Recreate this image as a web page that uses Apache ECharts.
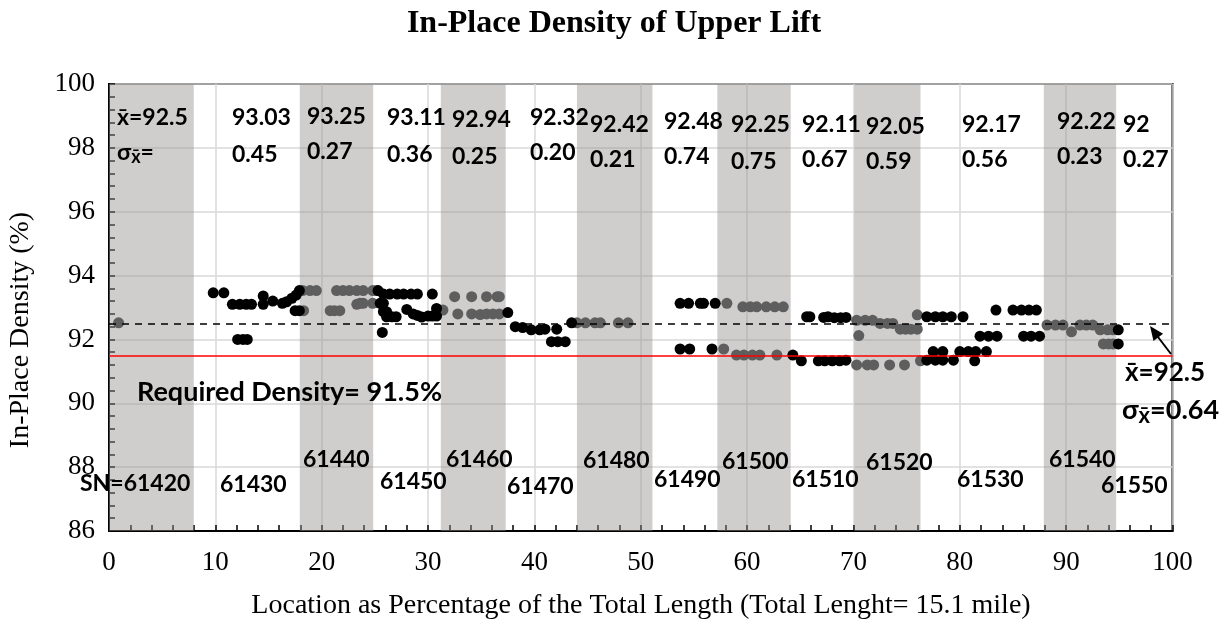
<!DOCTYPE html>
<html>
<head>
<meta charset="utf-8">
<script src="https://cdn.jsdelivr.net/npm/echarts@6/dist/echarts.min.js"></script>
<style>
  html, body { margin: 0; padding: 0; background: #ffffff; }
  #chart { width: 1228px; height: 622px; }
</style>
</head>
<body>
<div id="chart"></div>
<script>
// Core measurements: [location %, in-place density %]
const blackPoints = [
  [9.8, 93.46], [10.8, 93.46],
  [11.6, 93.1], [12.3, 93.1], [12.9, 93.1], [13.4, 93.1],
  [12.1, 92.0], [12.6, 92.0], [13.0, 92.0],
  [14.5, 93.36], [14.5, 93.1], [15.4, 93.2],
  [16.3, 93.13], [16.7, 93.18], [17.2, 93.29], [17.6, 93.39], [17.9, 93.53],
  [17.5, 92.9], [17.9, 92.9],
  [25.3, 93.53], [25.8, 93.42], [26.4, 93.42], [27.1, 93.42], [27.7, 93.42], [28.4, 93.42], [29.0, 93.42],
  [30.4, 93.42],
  [25.5, 93.13], [25.8, 93.13], [25.8, 92.87], [26.1, 92.87],
  [26.1, 92.71], [26.6, 92.71], [27.0, 92.71],
  [25.7, 92.22], [28.0, 92.94],
  [28.6, 92.8], [29.0, 92.75], [29.4, 92.7],
  [30.0, 92.73], [30.4, 92.73], [30.8, 92.73], [30.8, 92.97],
  [37.5, 92.84],
  [38.2, 92.4], [38.9, 92.37], [39.7, 92.3], [40.5, 92.3], [41.0, 92.32], [42.1, 92.32],
  [41.6, 91.93], [42.2, 91.93], [42.9, 91.93],
  [43.5, 92.52],
  [53.7, 93.13], [54.5, 93.13], [55.6, 93.13], [55.9, 93.13], [57.0, 93.13],
  [53.7, 91.7], [54.6, 91.7], [56.7, 91.7],
  [64.3, 91.51], [65.1, 91.33],
  [66.7, 91.33], [67.3, 91.33], [68.0, 91.33], [68.7, 91.33], [69.3, 91.35],
  [65.6, 92.71], [65.9, 92.71], [67.2, 92.69], [67.6, 92.71], [68.2, 92.68], [68.8, 92.68], [69.3, 92.69],
  [76.9, 92.71], [77.7, 92.71], [78.4, 92.71], [79.2, 92.71], [80.3, 92.71],
  [76.9, 91.35], [77.7, 91.35], [78.4, 91.35], [79.4, 91.35],
  [77.5, 91.62], [78.4, 91.62],
  [80.0, 91.62], [80.8, 91.62], [81.5, 91.62], [82.5, 91.62], [81.4, 91.33],
  [81.9, 92.1], [82.7, 92.1], [83.5, 92.1], [83.4, 92.92],
  [85.0, 92.92], [85.8, 92.92], [86.5, 92.92], [87.2, 92.92],
  [86.0, 92.1], [86.7, 92.1], [87.5, 92.1],
  [94.9, 92.3], [94.9, 91.86]
];

const grayPoints = [
  [0.9, 92.52],
  [18.2, 93.53], [18.9, 93.53], [19.5, 93.53], [18.3, 92.9],
  [20.8, 92.9], [21.2, 92.9], [21.7, 92.9],
  [21.4, 93.53], [22.0, 93.53], [22.6, 93.53], [23.3, 93.53], [23.9, 93.53],
  [23.3, 93.1], [23.6, 93.13], [23.9, 93.13],
  [24.8, 93.53], [25.2, 93.53], [24.8, 93.13],
  [31.4, 92.92], [32.5, 93.34],
  [34.1, 93.34], [35.5, 93.34], [36.5, 93.34], [36.7, 93.34],
  [32.8, 92.8], [34.1, 92.8], [34.9, 92.78], [35.5, 92.8], [36.1, 92.8], [36.7, 92.8],
  [44.0, 92.52], [44.8, 92.52], [45.7, 92.52], [46.2, 92.52], [47.9, 92.52], [48.8, 92.52],
  [58.1, 93.13],
  [59.6, 93.02], [60.3, 93.02], [60.9, 93.02], [61.8, 93.02], [62.6, 93.02], [63.4, 93.02],
  [57.8, 91.7],
  [59.0, 91.51], [59.7, 91.51], [60.5, 91.51], [61.2, 91.51], [62.8, 91.51],
  [70.3, 92.6], [71.1, 92.6], [71.8, 92.6], [70.5, 92.12],
  [72.5, 92.5], [73.2, 92.5], [73.7, 92.5],
  [74.4, 92.32], [74.9, 92.32], [75.4, 92.32], [76.0, 92.32], [76.0, 92.77],
  [70.3, 91.2], [71.3, 91.2], [71.9, 91.2], [73.4, 91.2], [74.8, 91.2], [76.3, 91.33],
  [88.2, 92.45], [89.0, 92.45], [89.7, 92.45], [90.5, 92.24],
  [91.3, 92.45], [91.9, 92.45], [92.5, 92.45],
  [93.2, 92.3], [93.9, 92.3], [94.4, 92.3],
  [93.5, 91.86], [94.0, 91.86], [94.4, 91.86]
];

// Alternating station sections along the lift (location % ranges)
const shadedRanges = [
  [0, 7.97], [17.94, 24.84], [31.2, 37.3], [44.0, 51.1],
  [57.2, 64.1], [70.1, 76.3], [87.9, 94.7]
];

const overallMean = 92.5;
const overallSigma = '0.64';
const requiredDensity = 91.5;

const sectionMeans = ['x\u0304=92.5', '93.03', '93.25', '93.11', '92.94', '92.32', '92.42',
  '92.48', '92.25', '92.11', '92.05', '92.17', '92.22', '92'];
const sectionSigmas = ['', '0.45', '0.27', '0.36', '0.25', '0.20', '0.21',
  '0.74', '0.75', '0.67', '0.59', '0.56', '0.23', '0.27'];
const stationLabels = ['SN=61420', '61430', '61440', '61450', '61460', '61470', '61480',
  '61490', '61500', '61510', '61520', '61530', '61540', '61550'];

// Label layout (pixel anchors: left edge, vertical middle)
const meanLabelPos = [[117,118],[232,118],[307,117],[387,118],[452,120],[530,118],[590,125],
  [664,122],[731,125],[802,125],[866,127],[962,125],[1057,122],[1123,125]];
const sigmaLabelPos = [[117,153],[232,155],[307,152],[387,155],[452,157],[530,153],[590,160],
  [664,157],[731,162],[802,160],[866,162],[962,160],[1057,157],[1123,160]];
const stationLabelPos = [[80,484],[220,485],[303,460],[380,482],[446,460],[507,487],[583,461],
  [654,480],[722,462],[792,480],[866,463],[957,480],[1049,460],[1101,486]];

const noteFont = 'Lato';
const axisFont = 'Liberation Serif';

function noteText(x, y, text, size, rich) {
  const style = {
    text: text, x: 0, y: 0,
    fill: '#000', font: 'bold ' + size + 'px ' + noteFont,
    textAlign: 'left', textVerticalAlign: 'middle'
  };
  if (rich) style.rich = rich;
  return { type: 'text', x: x, y: y, z: 50, style: style };
}

const sigmaRich = function (size) {
  return {
    s: { fontFamily: noteFont, fontWeight: 'bold', fontSize: size, color: '#000' },
    sub: { fontFamily: noteFont, fontWeight: 'bold', fontSize: Math.round(size * 0.8), color: '#000', padding: [Math.round(size * 0.4), 0, 0, 0] }
  };
};

const graphics = [];
sectionMeans.forEach(function (t, i) {
  graphics.push(noteText(meanLabelPos[i][0], meanLabelPos[i][1], t, 23));
});
sectionSigmas.forEach(function (t, i) {
  if (i === 0) {
    graphics.push(noteText(sigmaLabelPos[i][0], sigmaLabelPos[i][1], '{s|σ}{sub|x\u0304}{s|=}', 23, sigmaRich(23)));
  } else {
    graphics.push(noteText(sigmaLabelPos[i][0], sigmaLabelPos[i][1], t, 23));
  }
});
stationLabels.forEach(function (t, i) {
  graphics.push(noteText(stationLabelPos[i][0], stationLabelPos[i][1], t, 23));
});
graphics.push(noteText(137, 392, 'Required Density= ' + requiredDensity + '%', 27));
graphics.push(noteText(1125, 373, 'x\u0304=' + overallMean, 26));
graphics.push(noteText(1122, 410, '{s|σ}{sub|x\u0304}{s|=' + overallSigma + '}', 27, sigmaRich(27)));

// arrow pointing at the mean line
graphics.push({ type: 'line', z: 50, shape: { x1: 1171, y1: 354, x2: 1158, y2: 337 }, style: { stroke: '#000', lineWidth: 2 } });
graphics.push({ type: 'polygon', z: 50, shape: { points: [[1150, 326], [1163.1, 333.7], [1153.5, 340.9]] }, style: { fill: '#000' } });

// axis titles
graphics.push({ type: 'text', x: 641, y: 606, z: 50, style: { text: 'Location as Percentage of the Total Length (Total Lenght= 15.1 mile)', font: '28px ' + axisFont, fill: '#000', textAlign: 'center', textVerticalAlign: 'middle' } });
graphics.push({ type: 'text', x: 21, y: 330, rotation: Math.PI / 2, z: 50, style: { text: 'In-Place Density (%)', font: '28px ' + axisFont, fill: '#000', textAlign: 'center', textVerticalAlign: 'middle' } });

const chart = echarts.init(document.getElementById('chart'), null, { renderer: 'canvas' });

chart.setOption({
  animation: false,
  backgroundColor: '#ffffff',
  title: {
    text: 'In-Place Density of Upper Lift',
    left: 'center', top: 3,
    textStyle: { fontFamily: axisFont, fontWeight: 'bold', fontSize: 32, color: '#000' }
  },
  grid: {
    left: 109, right: 55.5, top: 84, bottom: 91,
    show: true, borderColor: '#000', borderWidth: 2, backgroundColor: 'transparent'
  },
  xAxis: {
    type: 'value', min: 0, max: 100, interval: 10,
    axisLine: { show: true, onZero: false, lineStyle: { color: '#000', width: 2 } },
    axisTick: { show: true, inside: true, length: 6, lineStyle: { color: '#000', width: 1.5 } },
    minorTick: { show: true, splitNumber: 5, length: 6, lineStyle: { color: '#000', width: 1.5 } },
    axisLabel: { fontFamily: axisFont, fontSize: 27, color: '#000', margin: 18 },
    splitLine: { show: true, lineStyle: { color: '#d9d9d9', width: 1.5 } }
  },
  yAxis: {
    type: 'value', min: 86, max: 100, interval: 2,
    axisLine: { show: true, onZero: false, lineStyle: { color: '#000', width: 2 } },
    axisTick: { show: true, inside: true, length: 6, lineStyle: { color: '#000', width: 1.5 } },
    minorTick: { show: true, splitNumber: 5, length: 6, lineStyle: { color: '#000', width: 1.5 } },
    axisLabel: { fontFamily: axisFont, fontSize: 27, color: '#000', margin: 14 },
    splitLine: { show: true, lineStyle: { color: '#d9d9d9', width: 1.5 } }
  },
  graphic: graphics,
  series: [
    {
      name: 'sections', type: 'scatter', data: [], z: 1, silent: true,
      markArea: {
        silent: true,
        itemStyle: { color: 'rgba(150,145,145,0.45)' },
        data: shadedRanges.map(function (r) { return [{ xAxis: r[0] }, { xAxis: r[1] }]; })
      },
      markLine: {
        silent: true, symbol: 'none', label: { show: false },
        data: [
          { yAxis: overallMean, lineStyle: { type: [7, 6], color: '#000', width: 1.6 } },
          { yAxis: requiredDensity, lineStyle: { type: 'solid', color: '#ff0000', width: 1.6 } }
        ]
      }
    },
    {
      name: 'gray cores', type: 'scatter', data: grayPoints, z: 3,
      symbol: 'circle', symbolSize: 11,
      itemStyle: { color: '#5e5e5e', opacity: 1 }
    },
    {
      name: 'black cores', type: 'scatter', data: blackPoints, z: 4,
      symbol: 'circle', symbolSize: 11,
      itemStyle: { color: '#000000', opacity: 1 }
    }
  ]
});
</script>
</body>
</html>
